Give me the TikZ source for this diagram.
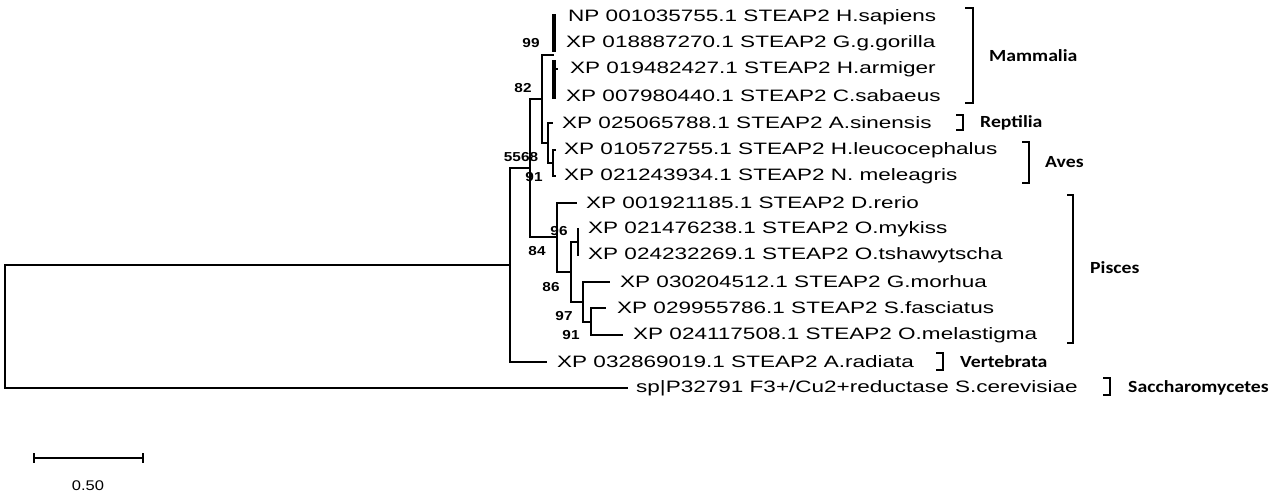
\documentclass[tikz,border=0pt]{standalone}
\usepackage{fontspec}
\usetikzlibrary{positioning}
\newfontfamily\leaffont[FakeStretch=1.365]{Liberation Sans}
\newfontfamily\bootfont[FakeStretch=1.18]{Liberation Sans}
\newfontfamily\cladefont[FakeStretch=1.16]{Carlito}

\begin{document}
\begin{tikzpicture}[x=1pt,y=-1pt,
    branch/.style={line width=1.3pt},
    bar/.style={line width=3.6pt},
    brack/.style={line width=1.8pt},
    leaf/.style={inner sep=0pt,font=\leaffont\fontsize{16.5}{18}\selectfont},
    boot/.style={inner sep=0pt,font=\bootfont\bfseries\fontsize{13}{14}\selectfont},
    clade/.style={inner sep=0pt,anchor=west,font=\cladefont\bfseries\fontsize{17}{19}\selectfont}]
        \fill[white] (0,0) rectangle (1282,496);
        \useasboundingbox (0,0) rectangle (1282,496);
        % inner nodes of the tree
        \coordinate (r) at (5,326);
        \coordinate (nA) at (510,265);
        \coordinate (nB) at (530,168);
        \coordinate (nC) at (542,99);
        \coordinate (nM) at (554,55);
        \coordinate (nE) at (548,143);
        \coordinate (nAv) at (553,163);
        \coordinate (nD) at (557,237);
        \coordinate (nF) at (571,272);
        \coordinate (nMy) at (578,242);
        \coordinate (nG) at (583,302);
        \coordinate (nH) at (591,322);
        % tips
        \coordinate (t1) at (554,17);
        \coordinate (t2) at (554,43);
        \coordinate (t3) at (558,69);
        \coordinate (t4) at (554,96);
        \coordinate (t5) at (553,123);
        \coordinate (t6) at (556,150);
        \coordinate (t7) at (556,176);
        \coordinate (t8) at (577,203);
        \coordinate (t9) at (579,229);
        \coordinate (t10) at (579,255);
        \coordinate (t11) at (610,282);
        \coordinate (t12) at (606,308);
        \coordinate (t13) at (623,335);
        \coordinate (t14) at (547,362);
        \coordinate (t15) at (628,388);
        % branches
        \draw[branch] (r) |- (nA);
        \draw[branch] (r) |- (t15);
        \draw[branch] (nA) |- (nB);
        \draw[branch] (nA) |- (t14);
        \draw[branch] (nB) |- (nC);
        \draw[branch] (nB) |- (nD);
        \draw[branch] (nC) |- (nM);
        \draw[branch] (nC) |- (nE);
        \draw[bar] ([yshift=3pt]t1) -- ([yshift=-9pt]t2);
        \draw[bar] ([yshift=9pt]t3 -| nM) -- ([yshift=-3pt]t4);
        \draw[branch] (t3 -| nM) -- (t3);
        \draw[branch] (nE) |- (t5);
        \draw[branch] (nE) |- (nAv);
        \draw[branch] (nAv) |- (t6);
        \draw[branch] (nAv) |- (t7);
        \draw[branch] (nD) |- (t8);
        \draw[branch] (nD) |- (nF);
        \draw[branch] (nF) |- (nMy);
        \draw[branch] (nF) |- (nG);
        \draw[branch] (nMy) |- (t9);
        \draw[branch] (nMy) |- (t10);
        \draw[branch] (nG) |- (t11);
        \draw[branch] (nG) |- (nH);
        \draw[branch] (nH) |- (t12);
        \draw[branch] (nH) |- (t13);
        % taxa
        \node[leaf, right=14pt of t1] (l1) {NP 001035755.1 STEAP2 H.sapiens};
        \node[leaf, right=12pt of t2] (l2) {XP 018887270.1 STEAP2 G.g.gorilla};
        \node[leaf, right=12pt of t3] (l3) {XP 019482427.1 STEAP2 H.armiger};
        \node[leaf, right=12pt of t4] (l4) {XP 007980440.1 STEAP2 C.sabaeus};
        \node[leaf, right=9pt of t5] (l5) {XP 025065788.1 STEAP2 A.sinensis};
        \node[leaf, right=8pt of t6] (l6) {XP 010572755.1 STEAP2 H.leucocephalus};
        \node[leaf, right=8pt of t7] (l7) {XP 021243934.1 STEAP2 N. meleagris};
        \node[leaf, right=9pt of t8] (l8) {XP 001921185.1 STEAP2 D.rerio};
        \node[leaf, right=9pt of t9] (l9) {XP 021476238.1 STEAP2 O.mykiss};
        \node[leaf, right=9pt of t10] (l10) {XP 024232269.1 STEAP2 O.tshawytscha};
        \node[leaf, right=10pt of t11] (l11) {XP 030204512.1 STEAP2 G.morhua};
        \node[leaf, right=11pt of t12] (l12) {XP 029955786.1 STEAP2 S.fasciatus};
        \node[leaf, right=10pt of t13] (l13) {XP 024117508.1 STEAP2 O.melastigma};
        \node[leaf, right=10pt of t14] (l14) {XP 032869019.1 STEAP2 A.radiata};
        \node[leaf, right=8pt of t15] (l15) {sp|P32791 F3+/Cu2+reductase S.cerevisiae};
        % bootstrap values
        \node[boot] (b99) at (531,43) {99};
        \node[boot] (b82) at (523,88) {82};
        \node[boot] (b5568) at (521,157) {5568};
        \node[boot] (b91a) at (534,177) {91};
        \node[boot] (b96) at (559,231) {96};
        \node[boot] (b84) at (537,251) {84};
        \node[boot] (b86) at (551,287) {86};
        \node[boot] (b97) at (564,316) {97};
        \node[boot] (b91b) at (571,335) {91};
        % groups
        \draw[brack] (965,8) -| (973,103) -- (965,103);
        \node[clade] (cMam) at (989,56) {Mammalia};
        \draw[brack] (956,115) -| (963,130) -- (956,130);
        \node[clade] (cRep) at (980,123) {Reptilia};
        \draw[brack] (1022,142) -| (1029,183) -- (1022,183);
        \node[clade] (cAve) at (1045,162) {Aves};
        \draw[brack] (1067,195) -| (1073,343) -- (1067,343);
        \node[clade] (cPis) at (1090,268) {Pisces};
        \draw[brack] (936,353) -| (943,370) -- (936,370);
        \node[clade] (cVer) at (960,362) {Vertebrata};
        \draw[brack] (1103,378) -| (1110,395) -- (1103,395);
        \node[clade] (cSac) at (1128,388) {Saccharomycetes};
        % scale
        \coordinate (s0) at (34,458);
        \coordinate (s1) at (143,458);
        \draw[brack] (s0) -- (s1);
        \draw[brack] ([yshift=5pt]s0) -- ([yshift=-5pt]s0);
        \draw[brack] ([yshift=5pt]s1) -- ([yshift=-5pt]s1);
        \node[boot, font=\bootfont\fontsize{14}{15}\selectfont] (sc) at (88,486) {0.50};
    \end{tikzpicture}
\end{document}
